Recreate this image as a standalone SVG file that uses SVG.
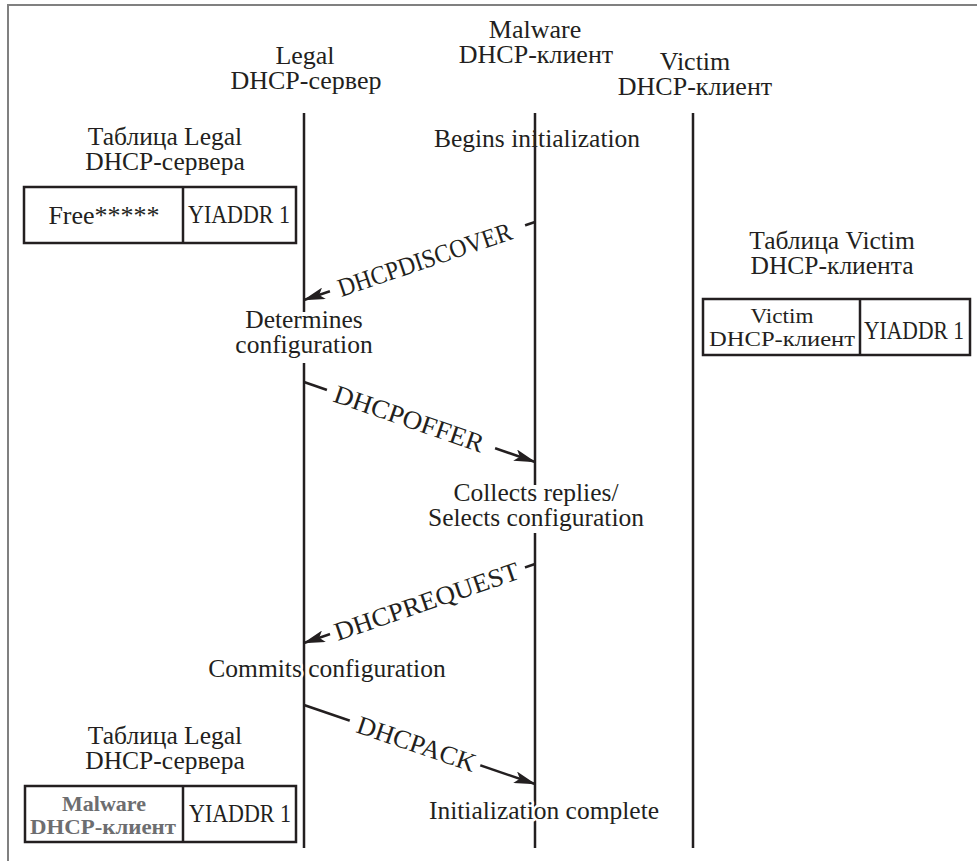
<svg xmlns="http://www.w3.org/2000/svg" width="977" height="861" viewBox="0 0 977 861">
<style>
  text { font-family: "Liberation Serif", "DejaVu Serif", serif; fill: #231f20; }
  .hdr { font-size: 26px; text-anchor: middle; }
  .cap { font-size: 25.5px; text-anchor: middle; }
  .body { font-size: 25.5px; text-anchor: middle; }
  .halo { stroke: #ffffff; stroke-width: 5px; paint-order: stroke; stroke-linejoin: round; }
  .lbl { font-size: 26px; text-anchor: middle; }
  .cell { font-size: 26px; text-anchor: middle; }
  .grey { fill: #6d6e70; font-weight: bold; }
  .life { stroke: #231f20; stroke-width: 2.5; fill: none; }
  .tbl { stroke: #231f20; stroke-width: 2.5; fill: #ffffff; }
  .msg { stroke: #231f20; stroke-width: 2.5; fill: none; marker-end: url(#arr); }
  .gap { fill: #ffffff; }
  .frame { stroke: #808080; stroke-width: 2; fill: none; }
</style>
<defs>
  <marker id="arr" markerUnits="userSpaceOnUse" markerWidth="22" markerHeight="12" viewBox="0 0 22 12" refX="21" refY="6" orient="auto">
    <path d="M0,0 L22,6 L0,12 L5,6 z" fill="#231f20"/>
  </marker>
</defs>
<rect x="0" y="0" width="977" height="861" fill="#ffffff"/>
<path class="frame" d="M8,861 V5 H977"/>

<g id="lifelines">
  <path class="life" d="M304,113 V312 M304,363 V848"/>
  <path class="life" d="M535,113 V485 M535,533 V848"/>
  <path class="life" d="M693,113 V848"/>
</g>

<g id="legal-server">
  <text class="hdr" x="305" y="64">Legal</text>
  <text class="hdr" x="306" y="89">DHCP-сервер</text>
</g>
<g id="malware-client">
  <text class="hdr" x="535" y="38">Malware</text>
  <text class="hdr" x="536" y="63">DHCP-клиент</text>
</g>
<g id="victim-client">
  <text class="hdr" x="695" y="70">Victim</text>
  <text class="hdr" x="695" y="95">DHCP-клиент</text>
</g>

<g id="legal-table-1">
  <text class="cap" x="165" y="145">Таблица Legal</text>
  <text class="cap" x="165" y="170">DHCP-сервера</text>
  <rect class="tbl" x="24" y="187" width="272" height="56"/>
  <line class="tbl" x1="183" y1="187" x2="183" y2="243"/>
  <text class="cell" x="104" y="224">Free*****</text>
  <text class="cell" x="239" y="223" textLength="102" lengthAdjust="spacingAndGlyphs">YIADDR 1</text>
</g>

<g id="victim-table">
  <text class="cap" x="832" y="249">Таблица Victim</text>
  <text class="cap" x="832" y="274">DHCP-клиента</text>
  <rect class="tbl" x="703" y="299" width="267" height="56"/>
  <line class="tbl" x1="860" y1="299" x2="860" y2="355"/>
  <text class="cell" x="782" y="323" style="font-size:22px" textLength="63" lengthAdjust="spacingAndGlyphs">Victim</text>
  <text class="cell" x="782" y="346" style="font-size:22px" textLength="146" lengthAdjust="spacingAndGlyphs">DHCP-клиент</text>
  <text class="cell" x="914" y="339" textLength="100" lengthAdjust="spacingAndGlyphs">YIADDR 1</text>
</g>

<g id="legal-table-2">
  <text class="cap" x="165" y="744">Таблица Legal</text>
  <text class="cap" x="165" y="769">DHCP-сервера</text>
  <rect class="tbl" x="25" y="786" width="271" height="56"/>
  <line class="tbl" x1="183" y1="786" x2="183" y2="842"/>
  <text class="cell grey" x="104" y="811" style="font-size:22px">Malware</text>
  <text class="cell grey" x="103" y="834" style="font-size:22px" textLength="146" lengthAdjust="spacingAndGlyphs">DHCP-клиент</text>
  <text class="cell" x="240" y="822" textLength="102" lengthAdjust="spacingAndGlyphs">YIADDR 1</text>
</g>

<g id="step-begins">
  <text class="body" x="537" y="147">Begins initialization</text>
</g>
<g id="step-determines">
  <text class="body" x="304" y="328">Determines</text>
  <text class="body" x="304" y="353">configuration</text>
</g>
<g id="step-collects">
  <text class="body" x="536" y="501">Collects replies/</text>
  <text class="body" x="536" y="526">Selects configuration</text>
</g>
<g id="step-commits">
  <text class="body halo" x="327" y="677">Commits configuration</text>
</g>
<g id="step-complete">
  <text class="body halo" x="544" y="819">Initialization complete</text>
</g>

<g id="connectors">
  <line class="msg" x1="535" y1="222" x2="304" y2="300"/>
  <g transform="translate(427.5,258.3) rotate(-18.66)">
    <rect class="gap" x="-103" y="-13" width="206" height="26"/>
    <text class="lbl" x="-3" y="9" textLength="182" lengthAdjust="spacingAndGlyphs">DHCPDISCOVER</text>
  </g>

  <line class="msg" x1="304" y1="382" x2="535" y2="462"/>
  <g transform="translate(411,419.1) rotate(19.1)">
    <rect class="gap" x="-89" y="-13" width="178" height="26"/>
    <text class="lbl" x="-2" y="9" textLength="157" lengthAdjust="spacingAndGlyphs">DHCPOFFER</text>
  </g>

  <line class="msg" x1="535" y1="564" x2="304" y2="643"/>
  <g transform="translate(427.5,600.8) rotate(-18.87)">
    <rect class="gap" x="-103" y="-13" width="206" height="26"/>
    <text class="lbl" x="-1" y="9" textLength="194" lengthAdjust="spacingAndGlyphs">DHCPREQUEST</text>
  </g>

  <line class="msg" x1="304" y1="705" x2="535" y2="784"/>
  <g transform="translate(415,743) rotate(18.87)">
    <rect class="gap" x="-69" y="-13" width="138" height="26"/>
    <text class="lbl" x="1.6" y="9" textLength="124" lengthAdjust="spacingAndGlyphs">DHCPACK</text>
  </g>
</g>
</svg>
